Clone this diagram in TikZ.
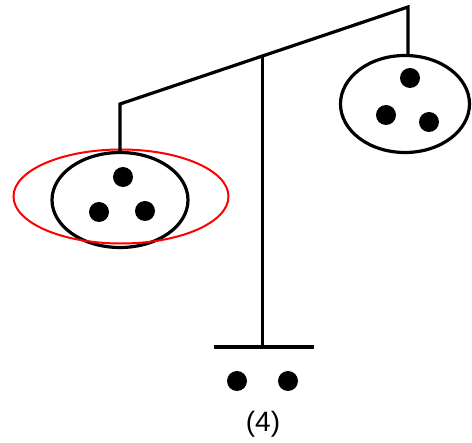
\documentclass[tikz,border=0pt]{standalone}
\usepackage{fontspec}
\setmainfont{Liberation Sans}
\usetikzlibrary{shapes.geometric, positioning, calc}

\begin{document}
\begin{tikzpicture}[
    x=1pt, y=-1pt,
    bar/.style={line width=3.2pt, draw=black},
    pan/.style={ellipse, draw=black, line width=3.2pt, inner sep=0pt},
    pick/.style={ellipse, draw=red, line width=2pt, minimum width=215pt,
        minimum height=94pt, inner sep=0pt},
    dot/.style={circle, fill=black, minimum size=20pt, inner sep=0pt}
]
\useasboundingbox (0,0) rectangle (472,443);

% Beam and post
\coordinate (beamL) at (120,104);
\coordinate (beamR) at (408,7);
\coordinate (pivot) at ($(beamL)!0.496!(beamR)$);
\coordinate (baseL) at (214,347);
\coordinate (baseR) at (314,347);

% Pans
\node[pan, minimum width=136pt, minimum height=95pt] (panL) at (120,200) {};
\node[pan, minimum width=129pt, minimum height=97pt] (panR) at (405,104) {};
\node[pick] (sel) at (121,196.5) {};

% Dots
\node[dot] (l1) at (123,177) {};
\node[dot] (l2) at (99,212) {};
\node[dot] (l3) at (145,211) {};
\node[dot] (r1) at (410,78) {};
\node[dot] (r2) at (386,115) {};
\node[dot] (r3) at (429,122) {};
\node[dot] (b1) at (237,381) {};
\node[dot] (b2) at (288,381) {};

% Label
\node[font=\fontsize{28}{30}\selectfont] (lbl) at (263,424) {(4)};

% Lines
\draw[bar, line join=miter] (panL.north) -- (beamL) -- (beamR) -- (beamR |- panR.north);
\draw[bar] (pivot) -- (pivot |- baseL);
\draw[bar] (baseL) -- (baseR);

\end{tikzpicture}
\end{document}
